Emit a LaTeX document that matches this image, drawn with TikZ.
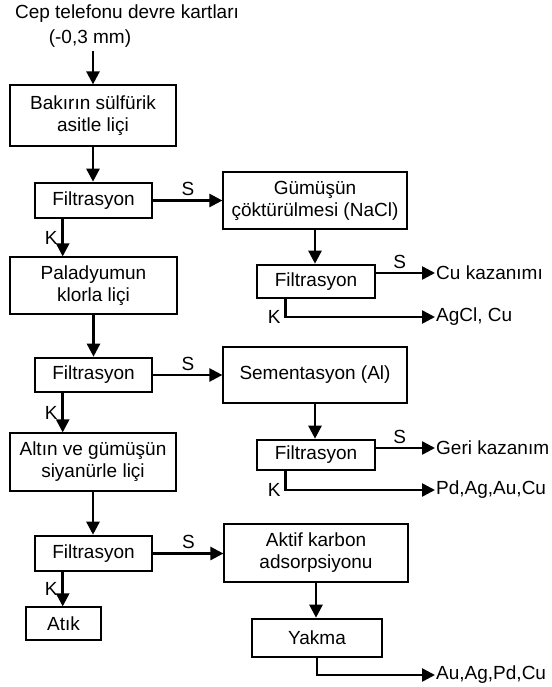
\documentclass[tikz,border=0pt]{standalone}
\usepackage{fontspec}
\setmainfont{Liberation Sans}
\usepackage{tikz}
\usetikzlibrary{arrows.meta,positioning,calc}

\begin{document}
\begin{tikzpicture}[x=1pt, y=-1pt,
    every node/.style={font=\fontsize{19}{22}\selectfont},
    box/.style={rectangle, draw=black, line width=1.2pt, align=center,
                inner sep=0pt},
    fbox/.style={box, line width=2.6pt},
    outtxt/.style={anchor=west, inner sep=1pt},
    lbl/.style={inner sep=4pt},
    arr/.style={-{Triangle[length=13pt,width=13pt]}, line width=2.5pt},
]
\useasboundingbox (0,0) rectangle (551,687);

% feed
\node (src) at (127,14) {Cep telefonu devre kartları};
\node (srcb) at (90,39) {(-0,3 mm)};

% left column
\node[box, minimum width=166pt, minimum height=61pt] (leach1) at (93,115.5)
  {Bakırın sülfürik\\asitle liçi};
\node[fbox, minimum width=117pt, minimum height=35pt] (filt1) at (93.5,200.5)
  {Filtrasyon};
\node[box, minimum width=167pt, minimum height=57pt] (pdleach) at (93.5,285.5)
  {Paladyumun\\klorla liçi};
\node[fbox, minimum width=117pt, minimum height=34pt] (filt3) at (93.5,375)
  {Filtrasyon};
\node[box, minimum width=166pt, minimum height=58pt] (auleach) at (93,462)
  {Altın ve gümüşün\\siyanürle liçi};
\node[fbox, minimum width=117pt, minimum height=35pt] (filt5) at (93.5,553.5)
  {Filtrasyon};
\node[box, minimum width=75pt, minimum height=33pt] (atik) at (63.5,623.5)
  {Atık};

% right column
\node[box, minimum width=184pt, minimum height=57pt] (agppt) at (315,200.5)
  {Gümüşün\\çöktürülmesi (NaCl)};
\node[fbox, minimum width=118pt, minimum height=33pt] (filt2) at (316,281.5)
  {Filtrasyon};
\node[box, minimum width=184pt, minimum height=56pt] (cement) at (315,375)
  {Sementasyon (Al)};
\node[fbox, minimum width=118pt, minimum height=30pt] (filt4) at (316,455)
  {Filtrasyon};
\node[box, minimum width=184pt, minimum height=58pt] (carbon) at (316,553)
  {Aktif karbon\\adsorpsiyonu};
\node[fbox, minimum width=130pt, minimum height=38pt] (burn) at (317,638)
  {Yakma};

% products
\node[outtxt] (cu) at (435,273) {Cu kazanımı};
\node[outtxt] (agcl) at (435,317) {AgCl, Cu};
\node[outtxt] (geri) at (435,448) {Geri kazanım};
\node[outtxt] (pdmix) at (435,490) {Pd,Ag,Au,Cu};
\node[outtxt] (prod) at (435,675) {Au,Ag,Pd,Cu};

% main line
\draw[arr] (leach1.north |- srcb.south) -- (leach1.north);
\draw[arr] (leach1.south) -- (leach1.south |- filt1.north);
\draw[arr] (filt1.south west) ++(29,0) coordinate (k1) -- (k1 |- pdleach.north)
  node[lbl, midway, left] {K};
\draw[arr] (pdleach.south) -- (pdleach.south |- filt3.north);
\draw[arr] (filt3.south west) ++(29,0) coordinate (k3) -- (k3 |- auleach.north)
  node[lbl, midway, left] {K};
\draw[arr] (auleach.south) -- (auleach.south |- filt5.north);
\draw[arr] (filt5.south west) ++(29,0) coordinate (k5) -- (k5 |- atik.north)
  node[lbl, midway, left] {K};

% S branches
\draw[arr] (filt1.east) -- (filt1.east -| agppt.west) node[midway, above] {S};
\draw[arr] (filt3.east) -- (filt3.east -| cement.west) node[midway, above] {S};
\draw[arr] (filt5.east) -- (filt5.east -| carbon.west) node[midway, above] {S};

% right side
\draw[arr] (agppt.south) -- (agppt.south |- filt2.north);
\draw[arr] (filt2.east |- cu.west) -- (cu.west) node[pos=0.4, above] {S};
\draw[arr] (filt2.south west) ++(30,0) |- (agcl.west) node[lbl, pos=0.5, left] {K};
\draw[arr] (cement.south) -- (cement.south |- filt4.north);
\draw[arr] (filt4.east |- geri.west) -- (geri.west) node[pos=0.4, above] {S};
\draw[arr] (filt4.south west) ++(30,0) |- (pdmix.west) node[lbl, pos=0.5, left] {K};
\draw[arr] (carbon.south) -- (carbon.south |- burn.north);
\draw[arr] (burn.south) |- (prod.west);

\end{tikzpicture}
\end{document}
